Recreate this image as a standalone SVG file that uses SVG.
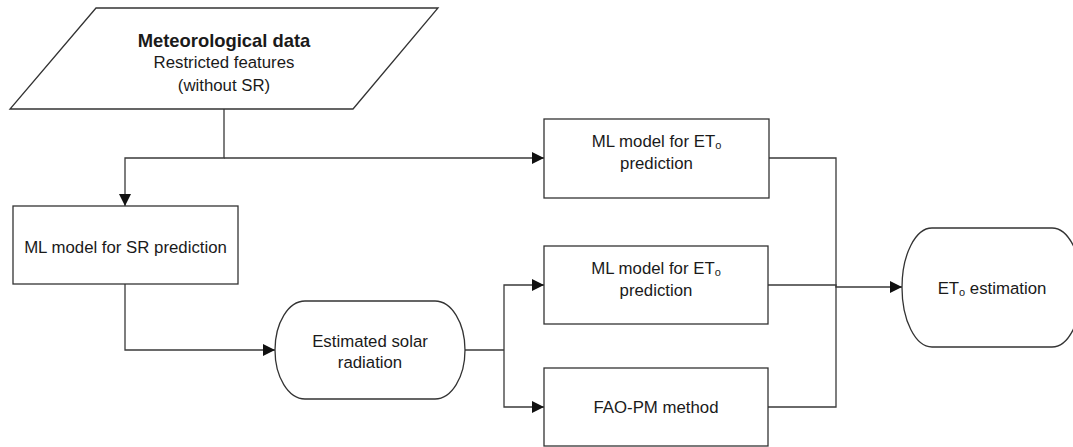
<svg xmlns="http://www.w3.org/2000/svg" width="1073" height="447" viewBox="0 0 1073 447">
  <defs>
    <marker id="arrow" markerUnits="userSpaceOnUse" markerWidth="12" markerHeight="12" refX="12" refY="6" orient="auto">
      <path d="M0,0 L12,6 L0,12 Z" fill="#111"/>
    </marker>
  </defs>
  <style>
    .shape { fill: #fff; stroke: #333; stroke-width: 1.3; }
    .conn { fill: none; stroke: #3a3a3a; stroke-width: 1.3; }
    .lbl { font-family: "Liberation Sans", Arial, sans-serif; font-size: 16.8px; fill: #1a1a1a; text-anchor: middle; }
    .bold { font-weight: bold; font-size: 18.4px; }
    .sub { font-size: 11px; }
  </style>
  <rect width="1073" height="447" fill="#fff"/>

  <!-- connectors -->
  <g id="connectors">
    <polyline class="conn" points="224,109 224,158 125,158 125,206" marker-end="url(#arrow)"/>
    <polyline class="conn" points="224,158 544,158" marker-end="url(#arrow)"/>
    <polyline class="conn" points="125,284 125,350 275,350" marker-end="url(#arrow)"/>
    <polyline class="conn" points="465,350 504,350"/>
    <polyline class="conn" points="504,350 504,285 544,285" marker-end="url(#arrow)"/>
    <polyline class="conn" points="504,350 504,407 544,407" marker-end="url(#arrow)"/>
    <polyline class="conn" points="769,158 836,158 836,407 768,407"/>
    <polyline class="conn" points="768,285 836,285 836,287 902,287" marker-end="url(#arrow)"/>
  </g>

  <!-- input data -->
  <g id="meteo-data">
    <polygon class="shape" points="96,8 438,8 353,109 10,109"/>
    <text class="lbl bold" x="224" y="47">Meteorological data</text>
    <text class="lbl" x="224" y="68">Restricted features</text>
    <text class="lbl" x="224" y="91">(without SR)</text>
  </g>

  <g id="sr-model">
    <rect class="shape" x="13" y="206" width="225" height="78"/>
    <text class="lbl" x="125.5" y="253">ML model for SR prediction</text>
  </g>

  <g id="solar-radiation">
    <rect class="shape" x="275" y="301" width="190" height="98" rx="30" ry="49"/>
    <text class="lbl" x="370" y="347">Estimated solar</text>
    <text class="lbl" x="370" y="368">radiation</text>
  </g>

  <g id="eto-model-top">
    <rect class="shape" x="544" y="119" width="225" height="79"/>
    <text class="lbl" x="656.5" y="147">ML model for ET<tspan class="sub" dy="2">o</tspan></text>
    <text class="lbl" x="656.5" y="169">prediction</text>
  </g>

  <g id="eto-model-mid">
    <rect class="shape" x="544" y="246" width="224" height="78"/>
    <text class="lbl" x="656" y="274">ML model for ET<tspan class="sub" dy="2">o</tspan></text>
    <text class="lbl" x="656" y="296">prediction</text>
  </g>

  <g id="fao-pm">
    <rect class="shape" x="544" y="368" width="224" height="78"/>
    <text class="lbl" x="656" y="413">FAO-PM method</text>
  </g>

  <g id="eto-estimation">
    <rect class="shape" x="902" y="228" width="180" height="119" rx="30" ry="59.5"/>
    <text class="lbl" x="992" y="294">ET<tspan class="sub" dy="2">o</tspan><tspan dy="-2"> estimation</tspan></text>
  </g>
</svg>
